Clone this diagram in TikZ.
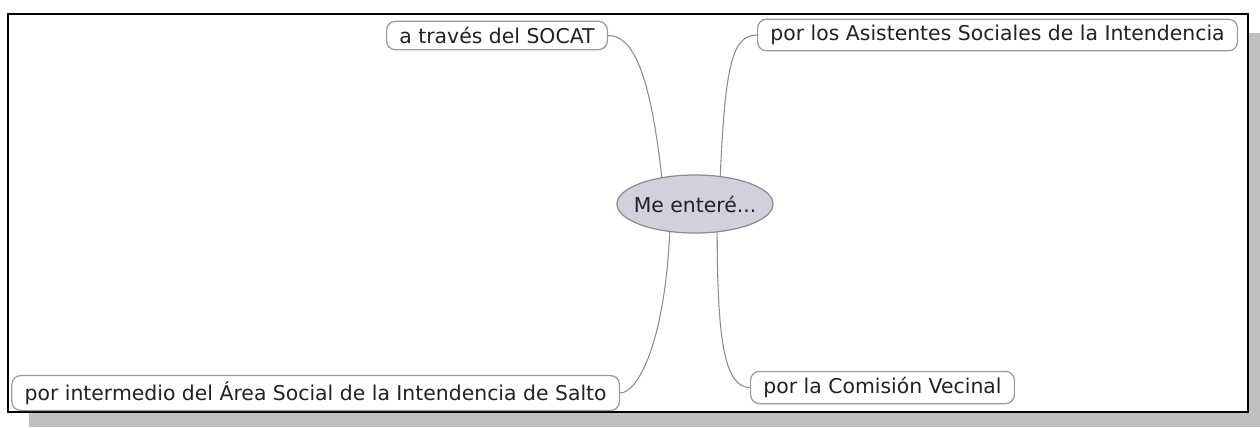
\documentclass[tikz,border=0pt]{standalone}
\usepackage{fontspec}
\setmainfont{DejaVu Sans}
\usepackage{tikz}
\usepackage{xcolor}
\usetikzlibrary{calc}
\usetikzlibrary{shapes.geometric}

\definecolor{linegray}{HTML}{8C8C8C}
\definecolor{boxgray}{HTML}{9A9A9A}
\definecolor{rootfill}{HTML}{D0D1DC}
\definecolor{shadowgray}{HTML}{C0C0C0}
\definecolor{txt}{HTML}{222222}

\tikzset{
  leaf/.style={draw=boxgray, fill=white, rounded corners=5pt, line width=0.7pt,
    text=txt, font=\fontsize{11.6}{13}\selectfont, inner xsep=7.3pt,
    minimum height=24*0.02cm},
  root/.style={ellipse, draw=linegray, fill=rootfill, line width=0.7pt,
    text=txt, font=\fontsize{11.6}{13}\selectfont,
    minimum width=156*0.02cm, minimum height=58*0.02cm, inner sep=0pt},
  branch/.style={draw=linegray, line width=0.6pt}
}

\begin{document}
\begin{tikzpicture}[x=0.02cm,y=-0.02cm]
\useasboundingbox (0,0) rectangle (1260,427);
\fill[shadowgray] (29,33) rectangle (1260,427);
\draw[fill=white,line width=1.15pt] (8,14) rectangle (1248,412);

\node[root] (me) at (695,204) {\makebox[0pt]{Me enteré...}};
\node[leaf,anchor=east] (socat) at (608,35.5) {a través del SOCAT};
\node[leaf,anchor=west] (asist) at (757,35) {por los Asistentes Sociales de la Intendencia};
\node[leaf,anchor=east] (area) at (620,393) {por intermedio del Área Social de la Intendencia de Salto};
\node[leaf,anchor=west] (comis) at (750,387.5) {por la Comisión Vecinal};

% ramas
\draw[branch] (me.141) .. controls +(-12,-105) and +(25,0) .. (socat.east);
\draw[branch] (me.48) .. controls +(5,-110) and +(-25,0) .. (asist.west);
\draw[branch] (me.228) .. controls +(-5,110) and +(18,0) .. (area.east);
\draw[branch] (me.308) .. controls +(0,110) and +(-25,0) .. (comis.west);
\end{tikzpicture}
\end{document}
